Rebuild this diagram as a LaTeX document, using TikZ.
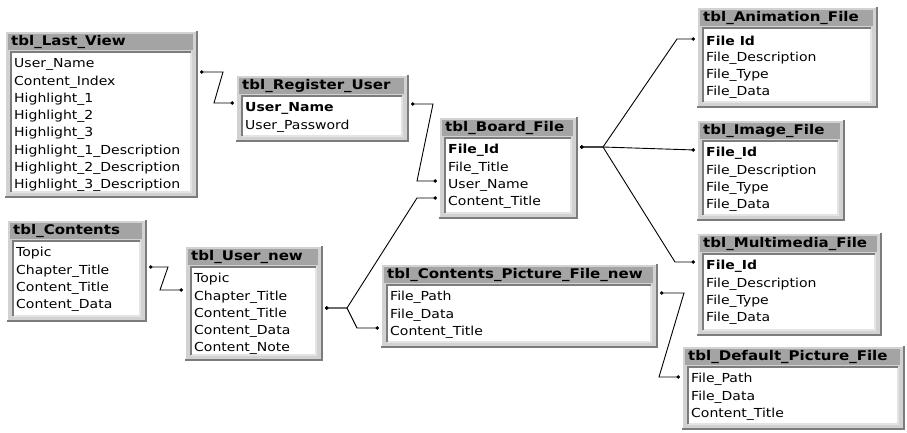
\documentclass[tikz,border=0pt]{standalone}
\usepackage{fontspec}
\setmainfont{DejaVu Sans}[FakeStretch=1.13]
\usetikzlibrary{arrows.meta,calc,fit}
\definecolor{framegray}{HTML}{D2D2D2}
\definecolor{titlegray}{HTML}{A4A4A4}
\definecolor{shadegray}{HTML}{7C7C7C}
\definecolor{edgegray}{HTML}{E4E4E4}
\tikzset{
  tblframe/.style={rectangle,inner sep=0pt,outer sep=0pt,fill=framegray},
  tbltitle/.style={anchor=west,inner sep=0pt,font=\fontsize{13.3}{15}\selectfont\bfseries},
  tblfield/.style={anchor=west,inner sep=0pt,font=\fontsize{12.4}{14}\selectfont},
  relation/.style={{Circle[length=3.5pt]}-{Circle[length=3.5pt]},line width=0.9pt,black},
}
% #1 name, #2 top left, #3 bottom right, #4 title, #5 fields
\newcommand{\dbtable}[5]{%
  \coordinate (#1-nw) at (#2);
  \coordinate (#1-se) at (#3);
  \node[tblframe,fit=(#1-nw)(#1-se)] (#1) {};
  \draw[white,line width=1pt] ($(#1.south west)+(0.5,0)$) -- ($(#1.north west)+(0.5,0.5)$)
    -- ($(#1.north east)+(0,0.5)$);
  \draw[shadegray,line width=2.5pt] ($(#1.south west)+(0,-1.25)$) -- ($(#1.south east)+(-1.25,-1.25)$)
    -- ($(#1.north east)+(-1.25,0)$);
  \fill[titlegray] ($(#1.north west)+(3,3)$) rectangle ($(#1.north east)+(-5,19)$);
  \node[tbltitle] (#1-title) at ($(#1.north west)+(6,11.5)$) {#4};
  \fill[white] ($(#1.north west)+(6,21)$) rectangle ($(#1.south east)+(-7,-6)$);
  \draw[edgegray,line width=1.2pt] ($(#1.south west)+(6,-6)$) -- ($(#1.south east)+(-7,-6)$)
    -- ($(#1.north east)+(-7,21)$);
  \draw[shadegray,line width=1.2pt] ($(#1.south west)+(6,-6)$) -- ($(#1.north west)+(6,21)$)
    -- ($(#1.north east)+(-7,21)$);
  \foreach \f [count=\i] in {#5}
    \node[tblfield] (#1-\i) at ($(#1.north west)+(9,{33.5+(\i-1)*17.3})$) {\f};
}

\begin{document}
\begin{tikzpicture}[x=1pt,y=-1pt]
  \useasboundingbox (0,0) rectangle (907,432);
  \dbtable{lastview}{5,31}{198,198}{tbl\_Last\_View}{User\_Name,Content\_Index,Highlight\_1,
    Highlight\_2,Highlight\_3,Highlight\_1\_Description,Highlight\_2\_Description,Highlight\_3\_Description}
  \dbtable{reguser}{236,75}{409,142}{tbl\_Register\_User}{{\bfseries User\_Name},User\_Password}
  \dbtable{boardfile}{439,117}{578,219}{tbl\_Board\_File}{{\bfseries File\_Id},File\_Title,User\_Name,Content\_Title}
  \dbtable{animfile}{697,7}{878,108}{tbl\_Animation\_File}{{\bfseries File Id},File\_Description,File\_Type,File\_Data}
  \dbtable{imgfile}{697,120}{845,221}{tbl\_Image\_File}{{\bfseries File\_Id},File\_Description,File\_Type,File\_Data}
  \dbtable{mmfile}{697,233}{882,336}{tbl\_Multimedia\_File}{{\bfseries File\_Id},File\_Description,File\_Type,File\_Data}
  \dbtable{defpic}{682,346}{905,430}{tbl\_Default\_Picture\_File}{File\_Path,File\_Data,Content\_Title}
  \dbtable{contents}{7,220}{147,322}{tbl\_Contents}{Topic,Chapter\_Title,Content\_Title,Content\_Data}
  \dbtable{usernew}{185,246}{323,361}{tbl\_User\_new}{Topic,Chapter\_Title,Content\_Title,Content\_Data,Content\_Note}
  \dbtable{cpic}{381,264}{658,348}{tbl\_Contents\_Picture\_File\_new}{File\_Path,File\_Data,Content\_Title}

  % relationships
  \draw[relation] ($(lastview.north east)+(2,41)$) -- ++(23,0)
    -- ($(reguser.north west)+(-22,28)$) -- ($(reguser.north west)+(-2,28)$);
  \draw[relation] ($(reguser.north east)+(2,29)$) -- ++(22,0)
    -- ($(boardfile.north west)+(-22,64)$) -- ($(boardfile.north west)+(-2,64)$);
  \draw[relation] ($(boardfile.north east)+(2,30)$) -- ++(23,0)
    -- ($(animfile.north west)+(-20,32)$) -- ($(animfile.north west)+(-2,32)$);
  \draw[relation] ($(boardfile.north east)+(2,30)$) -- ++(23,0)
    -- ($(imgfile.north west)+(-2,30)$);
  \draw[relation] ($(boardfile.north east)+(2,30)$) -- ++(23,0)
    -- ($(mmfile.north west)+(-22,29)$) -- ($(mmfile.north west)+(-2,29)$);
  \draw[relation] ($(contents.north east)+(2,47)$) -- ++(19,0)
    -- ($(usernew.north west)+(-25,44)$) -- ($(usernew.north west)+(-2,44)$);
  \draw[relation] ($(usernew.north east)+(2,62)$) -- ++(22,0)
    -- ($(boardfile.north west)+(-22,81)$) -- ($(boardfile.north west)+(-2,81)$);
  \draw[relation] ($(usernew.north east)+(2,62)$) -- ++(22,0)
    -- ($(cpic.north west)+(-24,64)$) -- ($(cpic.north west)+(-2,64)$);
  \draw[relation] ($(cpic.north east)+(2,29)$) -- ++(24,0)
    -- ($(defpic.north west)+(-23,31)$) -- ($(defpic.north west)+(-2,31)$);
\end{tikzpicture}
\end{document}
